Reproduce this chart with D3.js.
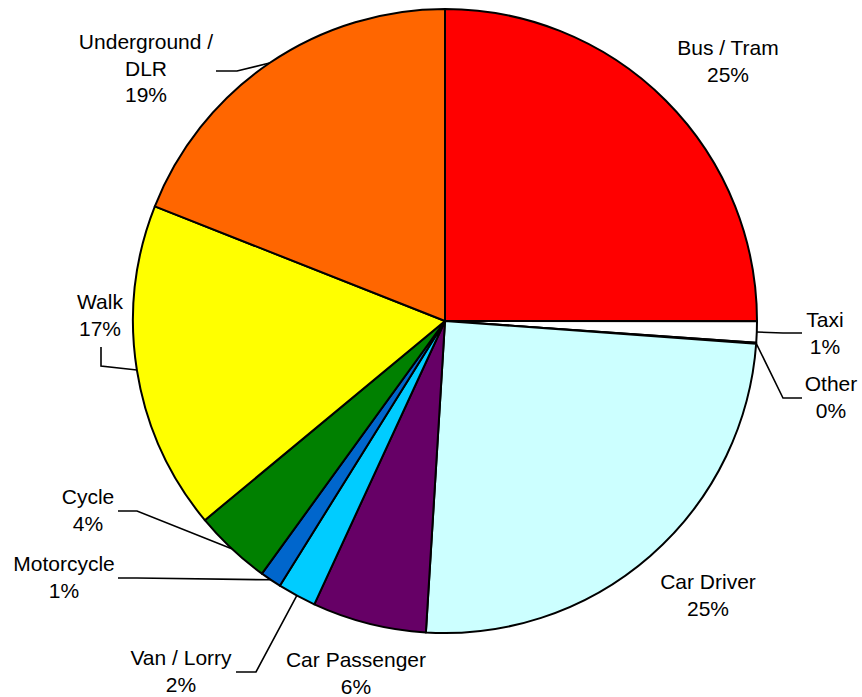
<!DOCTYPE html>
<html>
<head>
<meta charset="utf-8">
<script src="https://cdn.jsdelivr.net/npm/d3@7"></script>
<style>
  html, body { margin: 0; padding: 0; background: #fff; }
  svg { display: block; }
  text { font-family: "Liberation Sans", Arial, sans-serif; font-size: 21px; fill: #000; }
</style>
</head>
<body>
<svg id="chart" width="862" height="697"></svg>
<script>
// ---- data ----
const categories = ["Bus / Tram", "Taxi", "Other", "Car Driver", "Car Passenger",
                    "Van / Lorry", "Motorcycle", "Cycle", "Walk", "Underground / DLR"];
const shares = [25.0, 1.1, 0.05, 24.8, 5.9, 2.0, 1.1, 4.0, 17.0, 19.0];
const colors = ["#FF0000", "#FFFFFF", "#FFFFFF", "#CCFFFF", "#660066",
                "#00CCFF", "#0066CC", "#008000", "#FFFF00", "#FF6600"];
const labelLines = [["Bus / Tram"], ["Taxi"], ["Other"], ["Car Driver"], ["Car Passenger"],
                    ["Van / Lorry"], ["Motorcycle"], ["Cycle"], ["Walk"], ["Underground /", "DLR"]];

// ---- layout (label placement, separate from data) ----
const cx = 445, cy = 321, R = 312;
// text centre x, first baseline y, leader polyline (after rim point) or null
const labelLayout = [
  { x: 728, y: 55,  leader: null },
  { x: 825, y: 327, leader: [[783, 333], [802, 333]] },
  { x: 831, y: 391, leader: [[783, 398], [802, 398]] },
  { x: 708, y: 589, leader: null },
  { x: 356, y: 667, leader: null },
  { x: 181, y: 665, leader: [[256, 672], [236, 672]] },
  { x: 64,  y: 571, leader: [[137, 578], [118, 578]] },
  { x: 88,  y: 504, leader: [[137, 511], [118, 511]] },
  { x: 100, y: 309, leader: [[101, 366], [101, 347]] },
  { x: 146, y: 49,  leader: [[237, 71], [216, 71]] }
];
const lineH = 26.5;

const data = categories.map((c, i) => ({ name: c, value: shares[i], i }));

const svg = d3.select("#chart");
const pie = d3.pie().value(d => d.value).sort(null);
const arcs = pie(data);
const arc = d3.arc().innerRadius(0).outerRadius(R);

const g = svg.append("g").attr("transform", `translate(${cx},${cy})`);
g.selectAll("path.slice")
  .data(arcs)
  .enter().append("path")
  .attr("class", "slice")
  .attr("d", arc)
  .attr("fill", d => colors[d.data.i])
  .attr("stroke", "#000")
  .attr("stroke-width", 2)
  .attr("stroke-linejoin", "round");

// leader lines
arcs.forEach(a => {
  const lay = labelLayout[a.data.i];
  if (!lay.leader) return;
  const mid = (a.startAngle + a.endAngle) / 2;
  const start = [cx + R * Math.sin(mid), cy - R * Math.cos(mid)];
  const pts = [start].concat(lay.leader);
  svg.append("path")
    .attr("d", d3.line()(pts))
    .attr("fill", "none")
    .attr("stroke", "#000")
    .attr("stroke-width", 1.6);
});

// labels
arcs.forEach(a => {
  const i = a.data.i;
  const lay = labelLayout[i];
  const lines = labelLines[i].concat([Math.round(a.data.value) + "%"]);
  const t = svg.append("text").attr("text-anchor", "middle");
  lines.forEach((ln, k) => {
    t.append("tspan").attr("x", lay.x).attr("y", lay.y + k * lineH).text(ln);
  });
});
</script>
</body>
</html>
